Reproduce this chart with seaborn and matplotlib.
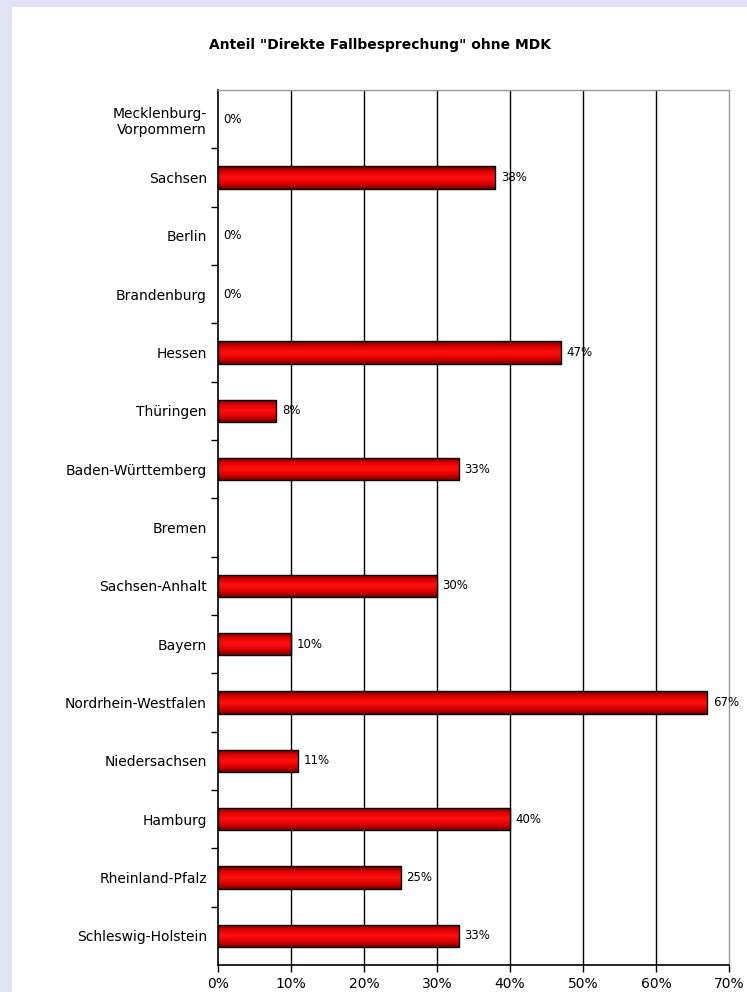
import numpy as np
import pandas as pd
import matplotlib
matplotlib.use("Agg")
import matplotlib.pyplot as plt
from matplotlib.patches import Rectangle
from matplotlib.colors import LinearSegmentedColormap
import seaborn as sns

# data
states = ["Mecklenburg-\nVorpommern", "Sachsen", "Berlin", "Brandenburg", "Hessen",
          "Thüringen", "Baden-Württemberg", "Bremen", "Sachsen-Anhalt", "Bayern",
          "Nordrhein-Westfalen", "Niedersachsen", "Hamburg", "Rheinland-Pfalz",
          "Schleswig-Holstein"]
shares = [0, 38, 0, 0, 47, 8, 33, np.nan, 30, 10, 67, 11, 40, 25, 33]
x_ticks = [0, 10, 20, 30, 40, 50, 60, 70]

df = pd.DataFrame({"Land": states, "Anteil": shares})

sns.set_theme(style="white")
plt.rcParams["font.family"] = ["DejaVu Sans"]
plt.rcParams["text.color"] = "black"
plt.rcParams["xtick.color"] = "black"
plt.rcParams["ytick.color"] = "black"

fig = plt.figure(figsize=(7.47, 9.92), dpi=100)
fig.patch.set_facecolor("#e2e2f7")
# white panel like the original export
fig.patches.append(Rectangle((12 / 747, 0), 1, 1 - 7 / 992, transform=fig.transFigure,
                             facecolor="white", edgecolor="none", zorder=-5))

ax = fig.add_axes([218 / 747, 1 - 965 / 992, (729 - 218) / 747, (965 - 90) / 992])
ax.set_zorder(2)
ax.set_facecolor("white")

sns.barplot(data=df, x="Anteil", y="Land", orient="h", color="red", width=0.38,
            edgecolor="black", linewidth=1, ax=ax, zorder=3)

# red gradient inside bars
cmap = LinearSegmentedColormap.from_list("bar", ["#6a0000", "#e00000", "#ff1010", "#e00000", "#7a0000"])
grad = np.linspace(0, 1, 64).reshape(-1, 1)
for p in ax.patches:
    w = p.get_width()
    if not np.isfinite(w) or w <= 0:
        p.set_visible(False)
        continue
    x0, y0, h = p.get_x(), p.get_y(), p.get_height()
    im = ax.imshow(grad, cmap=cmap, aspect="auto", extent=(x0, x0 + w, y0 + h, y0),
                   zorder=3.5, interpolation="bilinear")
    im.set_clip_path(p)
    p.set_facecolor("none")
    p.set_zorder(4)

for i, v in enumerate(shares):
    if np.isnan(v):
        continue
    ax.annotate(f"{v:.0f}%", (v, i), xytext=(4, 0), textcoords="offset points",
                va="center", ha="left", fontsize=8.5, color="black", zorder=5)

ax.set_xlim(0, 70)
ax.set_ylim(len(states) - 0.5, -0.5)
ax.set_xticks(x_ticks)
ax.set_xticklabels([f"{t}%" for t in x_ticks], fontsize=10)
ax.set_yticks(range(len(states)))
ax.set_yticklabels(states, fontsize=10)
ax.set_yticks(np.arange(0.5, len(states) - 0.5, 1), minor=True)
ax.tick_params(axis="y", which="major", length=0, pad=8, labelcolor="black")
ax.tick_params(axis="y", which="minor", length=5, width=1, color="black", left=True, direction="out")
ax.tick_params(axis="x", which="major", length=5, width=1, color="black", bottom=True,
               direction="out", pad=4, labelcolor="black")
ax.set_xlabel("")
ax.set_ylabel("")

for t in x_ticks[1:-1]:
    ax.axvline(t, color="black", lw=1, zorder=1)

for side in ["left", "bottom"]:
    ax.spines[side].set_color("black")
    ax.spines[side].set_linewidth(1.2)
for side in ["top", "right"]:
    ax.spines[side].set_color("#999999")
    ax.spines[side].set_linewidth(1)
for s in ax.spines.values():
    s.set_visible(True)

fig.text(380 / 747, 1 - 45 / 992, 'Anteil "Direkte Fallbesprechung" ohne MDK',
         ha="center", va="center", fontsize=10, fontweight="bold", color="black")

fig.savefig("out.png", dpi=100, facecolor=fig.get_facecolor())
